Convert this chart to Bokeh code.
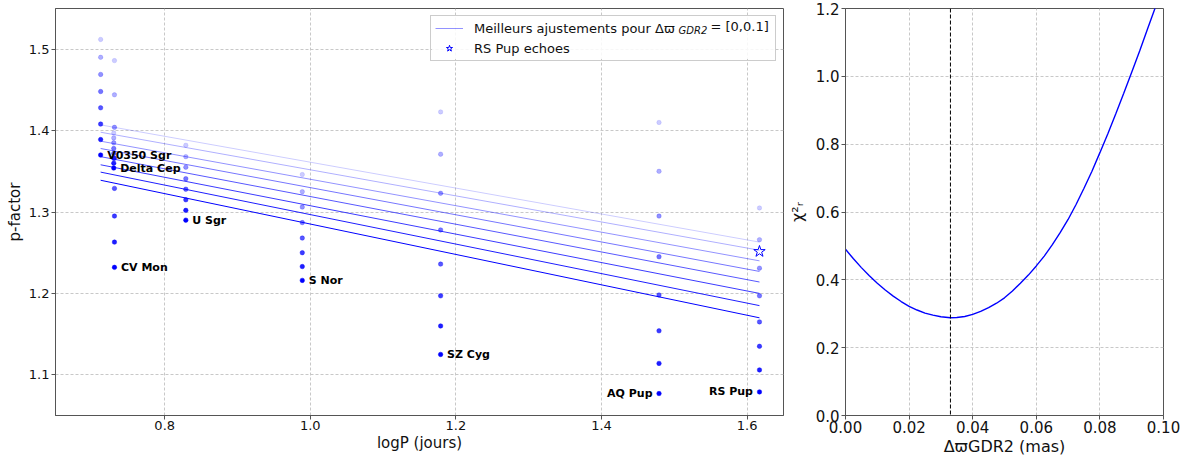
import numpy as np
from bokeh.plotting import figure
from bokeh.models import (Label, Legend, LegendItem, Span, ColumnDataSource,
                          PrintfTickFormatter, BoxAnnotation)
from bokeh.layouts import row
from bokeh.embed import file_html
from bokeh.resources import INLINE
from bokeh.core.properties import value

FONT = "DejaVu Sans"

# ---------------- data : left panel ----------------
star_names = ["V0350 Sgr", "Delta Cep", "CV Mon", "U Sgr", "S Nor", "SZ Cyg", "AQ Pup", "RS Pup"]
star_logP = [0.712, 0.730, 0.731, 0.829, 0.989, 1.179, 1.479, 1.617]
star_label_side = ["right", "right", "right", "right", "right", "right", "left", "left"]

pf_v0350_sgr = [1.512, 1.490, 1.469, 1.448, 1.428, 1.408, 1.389, 1.370]
pf_delta_cep = [1.397, 1.391, 1.385, 1.378, 1.372, 1.366, 1.360, 1.354]
pf_cv_mon = [1.486, 1.444, 1.404, 1.366, 1.329, 1.295, 1.263, 1.232]
pf_u_sgr = [1.382, 1.368, 1.355, 1.341, 1.328, 1.315, 1.302, 1.290]
pf_s_nor = [1.346, 1.325, 1.306, 1.287, 1.268, 1.250, 1.233, 1.216]
pf_sz_cyg = [1.423, 1.371, 1.323, 1.278, 1.236, 1.197, 1.160, 1.125]
pf_aq_pup = [1.410, 1.350, 1.295, 1.245, 1.198, 1.154, 1.114, 1.077]
pf_rs_pup = [1.305, 1.266, 1.231, 1.197, 1.165, 1.135, 1.106, 1.079]
pfactors = [pf_v0350_sgr, pf_delta_cep, pf_cv_mon, pf_u_sgr, pf_s_nor,
            pf_sz_cyg, pf_aq_pup, pf_rs_pup]

fit_logP = [0.712, 1.617]
fit_p_start = [1.407, 1.398, 1.387, 1.378, 1.368, 1.358, 1.349, 1.339]
fit_p_end = [1.263, 1.253, 1.240, 1.227, 1.214, 1.200, 1.185, 1.170]

echo_logP = [1.617]
echo_p = [1.2515]

x1_ticks = [0.8, 1.0, 1.2, 1.4, 1.6]
y1_ticks = [1.1, 1.2, 1.3, 1.4, 1.5]

# ---------------- data : right panel ----------------
dparallax = [0.0000, 0.0025, 0.0050, 0.0075, 0.0100, 0.0125, 0.0150, 0.0175,
             0.0200, 0.0225, 0.0250, 0.0275, 0.0300, 0.0330, 0.0350, 0.0375,
             0.0400, 0.0425, 0.0450, 0.0475, 0.0500, 0.0525, 0.0550, 0.0575,
             0.0600, 0.0625, 0.0650, 0.0675, 0.0700, 0.0725, 0.0750, 0.0775,
             0.0800, 0.0825, 0.0850, 0.0875, 0.0900, 0.0925, 0.0950, 0.0975,
             0.1000]
chi2_r = [0.490, 0.462, 0.436, 0.412, 0.390, 0.370, 0.352, 0.336,
          0.322, 0.311, 0.302, 0.296, 0.291, 0.288, 0.289, 0.292,
          0.298, 0.307, 0.318, 0.331, 0.347, 0.367, 0.390, 0.414,
          0.441, 0.470, 0.503, 0.539, 0.578, 0.622, 0.670, 0.720,
          0.775, 0.831, 0.890, 0.950, 1.012, 1.075, 1.140, 1.205,
          1.272]
dparallax_best = 0.033

x2_ticks = [0.0, 0.02, 0.04, 0.06, 0.08, 0.10]
y2_ticks = [0.0, 0.2, 0.4, 0.6, 0.8, 1.0, 1.2]

# ---------------- styles ----------------
alphas = np.linspace(0.2, 1.0, 8)
AX = "#555555"
GRID = "#c8c8c8"
TXT = "#111111"


def style(p, tick_size, label_size, xt, yt, xfmt, yfmt):
    p.outline_line_color = AX
    p.outline_line_width = 1
    for ax in (p.xaxis, p.yaxis):
        ax.axis_line_color = AX
        ax.major_tick_line_color = AX
        ax.major_tick_out = 4
        ax.major_tick_in = 0
        ax.minor_tick_out = 0
        ax.minor_tick_in = 0
        ax.major_label_text_font = FONT
        ax.major_label_text_font_size = tick_size
        ax.major_label_text_color = TXT
        ax.axis_label_text_font = FONT
        ax.axis_label_text_font_size = label_size
        ax.axis_label_text_font_style = "normal"
        ax.axis_label_text_color = TXT
    p.xaxis.major_label_standoff = 1
    p.xaxis.axis_label_standoff = 1
    p.yaxis.major_label_standoff = 2
    p.yaxis.axis_label_standoff = 2
    p.xaxis.ticker = xt
    p.yaxis.ticker = yt
    p.xaxis.formatter = PrintfTickFormatter(format=xfmt)
    p.yaxis.formatter = PrintfTickFormatter(format=yfmt)
    for g in (p.xgrid, p.ygrid):
        g.grid_line_color = GRID
        g.grid_line_dash = "3 2"
        g.grid_line_width = 1
    p.background_fill_color = "white"
    p.border_fill_color = "white"


# ---------------- left figure ----------------
p1 = figure(width=784, height=458, x_range=(0.65, 1.65), y_range=(1.05, 1.55),
            output_backend="svg", toolbar_location=None,
            min_border_left=55, min_border_right=1, min_border_top=8, min_border_bottom=39)
style(p1, "13px", "15px", x1_ticks, y1_ticks, "%.1f", "%.1f")
p1.xaxis.axis_label = "logP (jours)"
p1.yaxis.axis_label = "p-factor"

# white backdrop of the legend box (hides the grid, under the glyphs)
p1.add_layout(BoxAnnotation(left=1.167, right=1.639, top=1.5415, bottom=1.4880,
                            fill_color="white", fill_alpha=0.85, line_alpha=0,
                            level="underlay"))

line_renderers = []
for i in range(8):
    r = p1.line(fit_logP, [fit_p_start[i], fit_p_end[i]], line_color="blue",
                line_alpha=alphas[i], line_width=1)
    line_renderers.append(r)

for name, lp, pf in zip(star_names, star_logP, pfactors):
    src = ColumnDataSource(dict(x=[lp] * len(pf), y=pf, a=list(alphas)))
    p1.scatter("x", "y", source=src, size=4.5, marker="circle", fill_color="blue",
               line_color="blue", fill_alpha="a", line_alpha="a", line_width=0.5)

star_r = p1.scatter(echo_logP, echo_p, marker="star", size=12, fill_alpha=0,
                    line_color="blue", line_width=1)

lab_src = ColumnDataSource(dict(
    x=star_logP,
    y=[min(pf) for pf in pfactors],
    t=star_names,
    align=["left" if s == "right" else "right" for s in star_label_side],
    xo=[6.5 if s == "right" else -6.5 for s in star_label_side],
))
p1.text("x", "y", text="t", source=lab_src, text_align="align", x_offset="xo",
        text_baseline="alphabetic", text_font=value(FONT), text_font_size="11px",
        text_font_style="bold", text_color="black")

legend = Legend(items=[
    LegendItem(label="Meilleurs ajustements pour Δϖ", renderers=[line_renderers[2]]),
    LegendItem(label="RS Pup echoes", renderers=[star_r]),
], location="top_right", margin=7, padding=4, spacing=4, glyph_width=28,
    glyph_height=16, label_height=16, label_width=297, label_standoff=11,
    label_text_font=FONT, label_text_font_size="13px", label_text_color=TXT,
    border_line_color="#cccccc", border_line_alpha=1.0, background_fill_alpha=0.0)
p1.add_layout(legend, "center")

# subscript part of the legend text
p1.add_layout(Label(x=623, y=1.5228, x_units="screen", y_units="data", text="GDR2",
                    text_font=FONT, text_font_size="10px", text_font_style="italic",
                    text_color=TXT, text_baseline="middle"))
p1.add_layout(Label(x=655, y=1.5273, x_units="screen", y_units="data", text="= [0,0.1]",
                    text_font=FONT, text_font_size="13px", text_color=TXT,
                    text_baseline="middle"))

# ---------------- right figure ----------------
p2 = figure(width=406, height=458, x_range=(0, 0.1), y_range=(0, 1.2),
            output_backend="svg", toolbar_location=None,
            min_border_left=61, min_border_right=27, min_border_top=6, min_border_bottom=40)
style(p2, "15px", "16px", x2_ticks, y2_ticks, "%.2f", "%.1f")
p2.xaxis.axis_label = "ΔϖGDR2 (mas)"
p2.yaxis.axis_label = "χ²ᵣ"
p2.yaxis.axis_label_standoff = 6

p2.line(dparallax, chi2_r, line_color="blue", line_width=1.4)
p2.add_layout(Span(location=dparallax_best, dimension="height", line_color="black",
                   line_dash="4 2", line_width=1))

layout = row(p1, p2)
open("out.html", "w").write(file_html(layout, INLINE))
